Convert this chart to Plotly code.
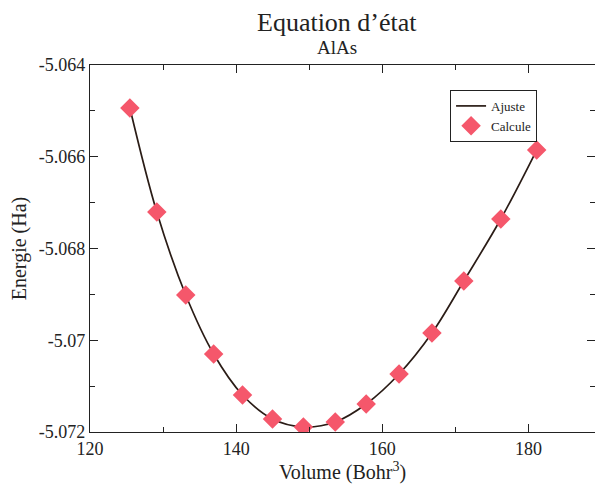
import plotly.graph_objects as go

volume = [125.46, 129.14, 133.10, 136.92, 140.87, 144.97, 149.20,
          153.56, 157.79, 162.29, 166.79, 171.15, 176.21, 181.12]
energie = [-5.064937, -5.067204, -5.069014, -5.070300, -5.071193, -5.071717, -5.071891,
           -5.071782, -5.071390, -5.070736, -5.069842, -5.068708, -5.067357, -5.065853]

x_ticks = [120, 140, 160, 180]
y_ticks = [-5.064, -5.066, -5.068, -5.070, -5.072]
y_ticktext = ["-5.064", "-5.066", "-5.068", "-5.07", "-5.072"]

FONT = "'Liberation Serif', 'Times New Roman', 'DejaVu Serif', serif"

fig = go.Figure()
fig.add_trace(go.Scatter(
    x=volume, y=energie, mode="lines", name="Ajuste",
    line=dict(color="#2a1c16", width=1.7, shape="spline", smoothing=1.0),
))
fig.add_trace(go.Scatter(
    x=volume, y=energie, mode="markers", name="Calcule",
    marker=dict(symbol="diamond", size=15, color="#f5576b", line=dict(width=0)),
))

axis_common = dict(
    showgrid=False, zeroline=False, showline=True, linecolor="#222", linewidth=1.2,
    mirror="ticks", ticks="inside", ticklen=8, tickcolor="#222", tickwidth=1.2,
    tickfont=dict(family=FONT, size=18, color="#222"),
)

fig.update_layout(
    width=595, height=486,
    margin=dict(l=90, r=0, t=65, b=54),
    paper_bgcolor="white", plot_bgcolor="white",
    font=dict(family=FONT, color="#222"),
    xaxis=dict(range=[120, 189.1], tickvals=x_ticks, ticktext=[str(v) for v in x_ticks],
               minor=dict(ticks="inside", ticklen=5, tickcolor="#222", dtick=10, tick0=120),
               title=dict(text="Volume (Bohr<sup>3</sup>)", font=dict(family=FONT, size=20), standoff=4),
               **axis_common),
    yaxis=dict(range=[-5.072, -5.064], tickvals=y_ticks, ticktext=y_ticktext,
               minor=dict(ticks="inside", ticklen=5, tickcolor="#222", dtick=0.001, tick0=-5.072),
               title=dict(text="Energie (Ha)", font=dict(family=FONT, size=20), standoff=6),
               **axis_common),
    legend=dict(x=0.713, y=0.932, xanchor="left", yanchor="top",
                bordercolor="#222", borderwidth=1, bgcolor="white",
                font=dict(family=FONT, size=13, color="#222"),
                tracegroupgap=0, itemwidth=30),
    showlegend=True,
    annotations=[
        dict(text="Equation d’état", x=0.49, y=1.0, xref="paper", yref="paper",
             yanchor="middle", yshift=43, showarrow=False,
             font=dict(family=FONT, size=26, color="#222")),
        dict(text="AlAs", x=0.49, y=1.0, xref="paper", yref="paper",
             yanchor="middle", yshift=18, showarrow=False,
             font=dict(family=FONT, size=19, color="#222")),
    ],
)

fig.write_html("out.html")
